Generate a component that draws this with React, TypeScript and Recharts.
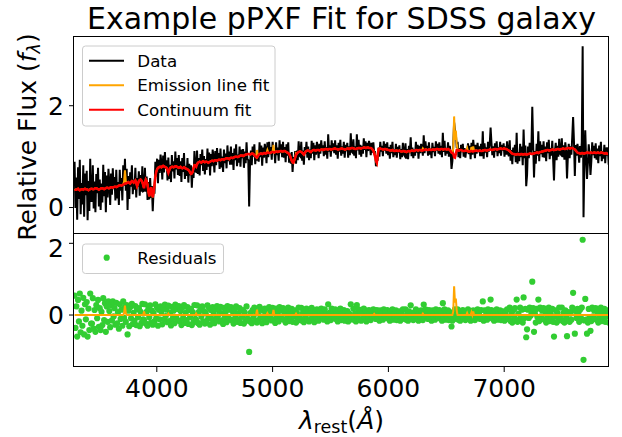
import { ComposedChart, Line, Scatter, XAxis, YAxis } from 'recharts';

const FONT = '"DejaVu Sans", sans-serif';

// rest-frame wavelength grid (Angstrom)
const LAMBDA_START = 3290;
const LAMBDA_STEP = 7.5;

const FLUX = [
  0.90, -0.01, 0.59, -0.24, 0.79, 0.17, 0.94, -0.13, 0.48, 0.06, 0.83, -0.18, 0.67, 0.24, 0.72, -0.25, 0.52, -0.07, 0.96, 0.13,
  0.13, 0.83, -0.02, 0.51, -0.09, 0.66, 0.28, 0.78, 0.02, 0.55, -0.05, 0.47, 0.10, 0.84, 0.22, 0.70, -0.09, 0.63, 0.20, 0.76,
  0.49, 0.05, 0.67, 0.25, 0.77, 0.36, 0.60, 0.14, 0.74, 0.18, 0.50, 0.05, 0.74, 0.33, 0.58, 0.14, 0.83, 0.43, 0.96, 0.33,
  0.76, -0.05, 0.62, 0.17, 0.69, 0.41, 0.83, 0.26, 0.55, 0.35, 0.78, 0.20, 0.58, 0.41, 0.71, 0.23, 0.64, 0.31, 0.81, 0.32,
  0.33, 0.78, 0.31, 0.61, 0.15, 0.50, 0.16, 0.58, 0.19, 0.42, -0.07, 0.36, 0.27, 0.90, 0.61, 0.96, 0.48, 0.94, 0.68, 1.04,
  0.88, 0.55, 1.02, 0.69, 1.09, 0.76, 0.93, 0.53, 0.98, 0.56, 0.84, 0.50, 1.03, 0.71, 0.91, 0.57, 1.10, 0.75, 0.97, 0.64,
  1.03, 0.62, 0.91, 0.50, 0.97, 0.70, 1.07, 0.56, 0.82, 0.62, 0.97, 0.49, 0.86, 0.63, 0.83, 0.39, 0.78, 0.58, 1.11, 0.71,
  0.70, 1.12, 0.66, 0.97, 0.63, 1.05, 0.83, 1.14, 0.72, 1.01, 0.65, 0.95, 0.74, 1.16, 0.80, 1.08, 0.63, 1.05, 0.81, 1.14,
  0.99, 0.69, 1.11, 0.83, 1.17, 0.90, 1.07, 0.76, 1.16, 0.79, 1.00, 0.70, 1.14, 0.87, 1.06, 0.77, 1.22, 0.91, 1.10, 0.84,
  1.20, 0.84, 1.07, 0.74, 1.16, 0.93, 1.24, 0.81, 1.04, 0.88, 1.20, 0.80, 1.14, 0.97, 1.15, 0.78, 1.10, 0.87, 1.28, 0.95,
  0.93, 0.02, 0.86, 1.12, 0.83, 1.20, 1.00, 1.24, 0.85, 1.08, 0.92, 1.06, 0.90, 1.28, 0.99, 1.22, 0.82, 1.18, 0.98, 1.25,
  1.13, 0.87, 1.28, 0.99, 1.29, 1.05, 1.19, 0.94, 1.29, 1.10, 1.12, 0.87, 1.28, 1.03, 1.18, 0.92, 1.32, 1.07, 1.24, 0.99,
  1.29, 0.98, 1.19, 0.89, 1.24, 1.02, 1.28, 0.88, 1.06, 0.86, 1.09, 0.70, 0.99, 0.89, 1.11, 0.86, 1.12, 0.93, 1.30, 1.02,
  1.00, 1.29, 0.92, 1.12, 0.84, 1.19, 1.06, 1.29, 0.98, 1.20, 0.93, 1.14, 0.97, 1.31, 1.06, 1.27, 0.93, 1.22, 1.04, 1.29,
  1.18, 0.97, 1.25, 1.06, 1.32, 1.12, 1.22, 1.01, 1.30, 1.04, 1.19, 0.96, 1.44, 1.10, 1.22, 1.00, 1.32, 1.11, 1.26, 1.07,
  1.32, 1.04, 1.22, 0.96, 1.27, 1.10, 1.33, 1.02, 1.20, 1.06, 1.29, 0.98, 1.23, 1.11, 1.27, 0.98, 1.20, 1.03, 1.46, 1.10,
  1.08, 1.34, 1.02, 1.20, 0.97, 1.44, 1.12, 1.33, 1.04, 1.23, 1.00, 1.21, 1.06, 1.36, 1.13, 1.30, 0.99, 1.27, 1.11, 1.31,
  1.22, 1.03, 1.27, 1.08, 1.28, 1.07, 1.08, 0.81, 1.02, 0.92, 1.18, 1.00, 1.29, 1.10, 1.21, 1.01, 1.30, 1.12, 1.25, 1.06,
  1.28, 1.03, 1.19, 0.96, 1.23, 1.07, 1.29, 0.99, 1.14, 1.03, 1.25, 0.98, 1.19, 1.08, 1.22, 0.95, 1.15, 0.99, 1.27, 1.05,
  1.02, 1.26, 0.96, 1.15, 0.95, 1.21, 1.07, 1.38, 1.01, 1.18, 0.97, 1.14, 1.02, 1.29, 1.08, 1.23, 0.96, 1.21, 1.07, 1.25,
  1.17, 1.02, 1.42, 1.07, 1.30, 1.12, 1.21, 1.02, 1.28, 1.04, 1.16, 0.97, 1.27, 1.09, 1.19, 1.01, 1.30, 1.12, 1.25, 1.06,
  1.28, 1.04, 1.21, 0.99, 1.47, 1.09, 1.31, 1.02, 1.17, 1.06, 1.28, 1.00, 1.21, 1.08, 0.76, 0.91, 1.21, 1.68, 1.49, 1.45,
  1.17, 1.29, 0.99, 1.17, 0.97, 1.23, 1.09, 1.25, 1.00, 1.17, 0.98, 1.15, 1.07, 1.26, 1.05, 1.21, 0.95, 1.27, 1.04, 1.33,
  1.16, 0.97, 1.23, 1.06, 1.27, 1.09, 1.20, 1.01, 1.25, 1.01, 1.50, 0.96, 1.26, 1.08, 1.18, 0.99, 1.29, 1.10, 1.24, 1.57,
  1.27, 1.03, 1.20, 0.98, 1.26, 1.10, 1.30, 1.01, 1.18, 1.07, 1.29, 1.02, 1.23, 1.12, 1.26, 1.00, 1.20, 1.04, 1.30, 1.07,
  1.01, 1.32, 0.92, 1.13, 0.85, 1.18, 1.01, 1.23, 0.89, 1.47, 0.86, 1.09, 0.91, 1.25, 0.99, 1.20, 0.83, 1.53, 0.97, 1.22,
  0.42, 0.64, 1.20, 0.97, 1.27, 1.04, 1.16, 1.98, 1.25, 0.59, 1.11, 0.86, 1.25, 1.02, 1.50, 0.91, 1.30, 1.05, 1.23, 0.99,
  1.30, 0.98, 1.20, 0.91, 1.28, 1.07, 1.33, 0.95, 1.17, 1.02, 1.31, 0.95, 0.53, 1.09, 1.27, 0.93, 1.21, 1.00, 1.35, 1.06,
  1.04, 1.36, 0.99, 1.22, 0.94, 1.28, 1.12, 0.57, 1.02, 1.25, 0.97, 1.20, 1.04, 1.38, 1.78, 1.30, 0.62, 1.23, 1.02, 1.25,
  1.13, 0.88, 1.21, 0.98, 1.28, 3.17, -0.19, 0.91, 1.52, 0.94, 0.56, 0.87, 1.24, 1.01, 0.64, 0.91, 1.28, 1.03, 1.21, 0.97,
  1.26, 0.94, 1.16, 0.87, 1.22, 1.01, 1.29, 0.91, 1.11, 0.96, 1.23, 0.87, 1.18, 1.02, 1.18, 0.84,
];

const CONTINUUM = [
  0.36, 0.35, 0.35, 0.36, 0.37, 0.35, 0.34, 0.35, 0.36, 0.36, 0.35, 0.36, 0.37, 0.36, 0.36, 0.35, 0.34, 0.35, 0.36, 0.37,
  0.37, 0.36, 0.36, 0.37, 0.38, 0.38, 0.37, 0.36, 0.35, 0.36, 0.37, 0.38, 0.38, 0.37, 0.36, 0.37, 0.38, 0.39, 0.39, 0.38,
  0.38, 0.39, 0.40, 0.40, 0.39, 0.40, 0.41, 0.41, 0.40, 0.41, 0.42, 0.43, 0.44, 0.44, 0.43, 0.44, 0.45, 0.46, 0.47, 0.47,
  0.48, 0.49, 0.50, 0.48, 0.47, 0.50, 0.52, 0.51, 0.49, 0.51, 0.53, 0.48, 0.42, 0.47, 0.52, 0.54, 0.55, 0.53, 0.50, 0.44,
  0.38, 0.48, 0.55, 0.52, 0.45, 0.32, 0.22, 0.31, 0.40, 0.30, 0.20, 0.30, 0.45, 0.60, 0.70, 0.75, 0.78, 0.79, 0.80, 0.80,
  0.79, 0.81, 0.82, 0.81, 0.80, 0.79, 0.78, 0.73, 0.68, 0.73, 0.78, 0.79, 0.80, 0.80, 0.79, 0.80, 0.81, 0.81, 0.80, 0.79,
  0.78, 0.79, 0.80, 0.78, 0.77, 0.78, 0.79, 0.78, 0.76, 0.76, 0.75, 0.74, 0.72, 0.69, 0.66, 0.67, 0.70, 0.78, 0.83, 0.82,
  0.80, 0.85, 0.88, 0.89, 0.90, 0.89, 0.88, 0.90, 0.91, 0.90, 0.89, 0.90, 0.90, 0.89, 0.88, 0.89, 0.90, 0.91, 0.92, 0.92,
  0.91, 0.92, 0.93, 0.93, 0.92, 0.93, 0.94, 0.94, 0.93, 0.94, 0.95, 0.95, 0.94, 0.95, 0.96, 0.97, 0.97, 0.96, 0.95, 0.97,
  0.98, 0.98, 0.97, 0.98, 0.99, 1.00, 1.00, 1.00, 0.99, 1.00, 1.01, 1.02, 1.02, 1.02, 1.01, 1.02, 1.03, 1.04, 1.04, 1.05,
  1.05, 1.05, 1.04, 1.05, 1.06, 1.06, 1.05, 1.03, 1.01, 0.99, 0.98, 1.01, 1.04, 1.05, 1.06, 1.06, 1.05, 1.06, 1.07, 1.07,
  1.06, 1.07, 1.08, 1.08, 1.07, 1.07, 1.08, 1.09, 1.09, 1.09, 1.08, 1.09, 1.10, 1.10, 1.09, 1.10, 1.10, 1.11, 1.11, 1.10,
  1.10, 1.11, 1.11, 1.10, 1.09, 1.08, 1.07, 1.05, 1.02, 0.97, 0.92, 0.89, 0.88, 0.93, 0.98, 1.03, 1.06, 1.08, 1.09, 1.10,
  1.10, 1.09, 1.08, 1.06, 1.04, 1.07, 1.10, 1.11, 1.12, 1.12, 1.11, 1.10, 1.09, 1.11, 1.12, 1.13, 1.13, 1.12, 1.12, 1.13,
  1.13, 1.13, 1.12, 1.13, 1.14, 1.14, 1.13, 1.14, 1.14, 1.15, 1.15, 1.14, 1.14, 1.15, 1.15, 1.14, 1.14, 1.15, 1.15, 1.16,
  1.16, 1.15, 1.15, 1.14, 1.14, 1.15, 1.15, 1.16, 1.16, 1.15, 1.15, 1.14, 1.14, 1.15, 1.16, 1.16, 1.15, 1.16, 1.16, 1.17,
  1.17, 1.16, 1.16, 1.15, 1.15, 1.16, 1.16, 1.17, 1.17, 1.16, 1.16, 1.17, 1.17, 1.18, 1.18, 1.17, 1.17, 1.18, 1.18, 1.17,
  1.17, 1.17, 1.16, 1.14, 1.12, 1.06, 1.00, 0.92, 0.88, 1.02, 1.15, 1.16, 1.16, 1.15, 1.15, 1.14, 1.14, 1.15, 1.15, 1.14,
  1.14, 1.13, 1.13, 1.12, 1.12, 1.12, 1.13, 1.12, 1.11, 1.11, 1.12, 1.12, 1.11, 1.11, 1.12, 1.11, 1.10, 1.10, 1.11, 1.11,
  1.10, 1.10, 1.09, 1.10, 1.11, 1.11, 1.10, 1.11, 1.12, 1.12, 1.11, 1.11, 1.12, 1.13, 1.13, 1.12, 1.12, 1.13, 1.13, 1.12,
  1.12, 1.12, 1.13, 1.13, 1.14, 1.14, 1.13, 1.13, 1.14, 1.14, 1.13, 1.13, 1.14, 1.14, 1.13, 1.14, 1.14, 1.15, 1.15, 1.14,
  1.14, 1.14, 1.15, 1.15, 1.14, 1.14, 1.15, 1.15, 1.14, 1.14, 1.15, 1.14, 1.13, 1.11, 1.08, 1.07, 1.06, 0.99, 0.98, 1.05,
  1.13, 1.13, 1.12, 1.12, 1.13, 1.13, 1.12, 1.11, 1.11, 1.11, 1.12, 1.12, 1.11, 1.10, 1.10, 1.10, 1.11, 1.11, 1.10, 1.10,
  1.11, 1.11, 1.12, 1.12, 1.11, 1.11, 1.12, 1.12, 1.11, 1.11, 1.12, 1.12, 1.13, 1.13, 1.12, 1.12, 1.13, 1.13, 1.14, 1.14,
  1.13, 1.13, 1.14, 1.14, 1.15, 1.15, 1.14, 1.14, 1.15, 1.15, 1.16, 1.16, 1.15, 1.15, 1.16, 1.16, 1.15, 1.15, 1.14, 1.13,
  1.12, 1.11, 1.09, 1.07, 1.06, 1.05, 1.05, 1.04, 1.04, 1.04, 1.05, 1.05, 1.04, 1.04, 1.05, 1.05, 1.04, 1.04, 1.05, 1.05,
  1.04, 1.04, 1.05, 1.05, 1.06, 1.06, 1.05, 1.05, 1.06, 1.06, 1.07, 1.07, 1.08, 1.08, 1.07, 1.08, 1.09, 1.09, 1.10, 1.10,
  1.11, 1.11, 1.12, 1.12, 1.13, 1.13, 1.12, 1.12, 1.13, 1.13, 1.14, 1.14, 1.13, 1.13, 1.14, 1.14, 1.15, 1.15, 1.14, 1.14,
  1.15, 1.15, 1.16, 1.16, 1.15, 1.15, 1.16, 1.16, 1.17, 1.17, 1.16, 1.16, 1.17, 1.17, 1.16, 1.15, 1.14, 1.12, 1.10, 1.08,
  1.07, 1.07, 1.06, 1.06, 1.07, 1.07, 1.06, 1.06, 1.07, 1.07, 1.08, 1.08, 1.07, 1.07, 1.08, 1.08, 1.07, 1.07, 1.08, 1.08,
  1.07, 1.07, 1.08, 1.08, 1.07, 1.07, 1.08, 1.08, 1.07, 1.07, 1.06, 1.06, 1.07, 1.06, 1.05, 1.05,
];

// gas emission component: [wavelength, flux]
const EMISSION_LINES: [number, number][] = [
  [3717.5, 0.05], [3725, 0.26], [3732.5, 0.05], [3890, 0.1], [4100, 0.04], [4340, 0.04],
  [4865, 0.15], [4955, 0.05], [5007.5, 0.14], [5202.5, 0.04], [5877.5, 0.03], [6297.5, 0.04],
  [6560, 0.1], [6567.5, 0.8], [6575, 0.35], [6582.5, 0.46], [6590, 0.12],
  [6680, 0.06], [6717.5, 0.08], [6732.5, 0.1],
];

const X_TICKS = [4000, 5000, 6000, 7000];
const FLUX_TICKS = [0, 2];
const RESID_TICKS = [0, 2];

const FIT_LEGEND = [
  { label: 'Data', color: '#000000' },
  { label: 'Emission line fit', color: '#FFA500' },
  { label: 'Continuum fit', color: '#FF0000' },
];

const gasAt = new Map(EMISSION_LINES);
const rows = FLUX.map((flux, i) => {
  const lam = LAMBDA_START + i * LAMBDA_STEP;
  const cont = CONTINUUM[i];
  const gas = gasAt.get(lam) ?? 0;
  return { lam, flux, cont, gas, fit: cont + gas, resid: flux - cont - gas };
});

const X_DOMAIN = [3285, 7905];
const RESID_DOMAIN = [-1.45, 2.26];
const tickStyle = { fontSize: 25, fill: '#000', fontFamily: FONT };

export default function App() {
  return (
    <div style={{ position: 'absolute', left: 0, top: 0, width: 622, height: 437, background: '#fff', fontFamily: FONT }}>
      <div style={{ position: 'absolute', left: 0, top: 0 }}>
        <ComposedChart width={622} height={240} data={rows} margin={{ top: 37, right: 13, bottom: 6, left: 0 }}>
          <XAxis dataKey="lam" type="number" domain={X_DOMAIN} hide allowDataOverflow />
          <YAxis
            type="number"
            domain={[-0.52, 3.35]}
            ticks={FLUX_TICKS}
            width={74}
            stroke="#000"
            axisLine={false}
            tickSize={5}
            tickMargin={5}
            tick={tickStyle}
            allowDataOverflow
          />
          <Line dataKey="flux" stroke="#000" strokeWidth={2} dot={false} isAnimationActive={false} />
          <Line dataKey="fit" stroke="#FFA500" strokeWidth={2} dot={false} isAnimationActive={false} />
          <Line dataKey="cont" stroke="#FF0000" strokeWidth={2.5} dot={false} isAnimationActive={false} />
        </ComposedChart>
      </div>
      <div style={{ position: 'absolute', left: 0, top: 234 }}>
        <ComposedChart width={622} height={203} data={rows} margin={{ top: 0, right: 13, bottom: 30, left: 0 }}>
          <XAxis
            dataKey="lam"
            type="number"
            domain={X_DOMAIN}
            ticks={X_TICKS}
            interval={0}
            height={40}
            stroke="#000"
            axisLine={false}
            tickSize={5}
            tickMargin={7}
            tick={tickStyle}
            allowDataOverflow
          />
          <YAxis
            type="number"
            domain={RESID_DOMAIN}
            ticks={RESID_TICKS}
            width={74}
            stroke="#000"
            axisLine={false}
            tickSize={5}
            tickMargin={5}
            tick={tickStyle}
            allowDataOverflow
          />
          <Scatter
            dataKey="resid"
            fill="#32CD32"
            isAnimationActive={false}
            shape={(p: any) => <circle cx={p.cx} cy={p.cy} r={3.1} fill="#32CD32" />}
          />
        </ComposedChart>
      </div>
      {/* gas component drawn in its own layer so it sits above the residual dots */}
      <div style={{ position: 'absolute', left: 0, top: 234 }}>
        <ComposedChart width={622} height={203} data={rows} margin={{ top: 0, right: 13, bottom: 70, left: 74 }}>
          <XAxis dataKey="lam" type="number" domain={X_DOMAIN} hide allowDataOverflow />
          <YAxis type="number" domain={RESID_DOMAIN} hide allowDataOverflow />
          <Line dataKey="gas" stroke="#FFA500" strokeWidth={2} dot={false} isAnimationActive={false} />
        </ComposedChart>
      </div>
      <svg width={622} height={437} style={{ position: 'absolute', left: 0, top: 0, pointerEvents: 'none' }}>
        <rect x={73.5} y={36.5} width={535} height={197} fill="none" stroke="#000" strokeWidth={1} />
        <rect x={73.5} y={233.5} width={535} height={133} fill="none" stroke="#000" strokeWidth={1} />
        <text x={341.5} y={29} textAnchor="middle" fontSize={30} fontFamily={FONT} fill="#000">
          Example pPXF Fit for SDSS galaxy
        </text>
        <text transform="translate(36,137) rotate(-90)" textAnchor="middle" fontSize={25} fontFamily={FONT} fill="#000">
          Relative Flux (<tspan fontStyle="italic">f</tspan>
          <tspan fontStyle="italic" fontSize={17.5} dy={4}>λ</tspan>
          <tspan dy={-4}>)</tspan>
        </text>
        <text x={341.5} y={429} textAnchor="middle" fontSize={25} fontFamily={FONT} fill="#000">
          <tspan fontStyle="italic">λ</tspan>
          <tspan fontSize={17.5} dy={3.5}>rest</tspan>
          <tspan dy={-3.5}>(</tspan>
          <tspan fontStyle="italic">Å</tspan>)
        </text>
        <rect x={82.5} y={46} width={192.5} height={80} rx={3} fill="#fff" fillOpacity={0.8} stroke="#ccc" />
        {FIT_LEGEND.map((item, i) => (
          <g key={item.label}>
            <line x1={89} x2={124} y1={60.7 + i * 24.5} y2={60.7 + i * 24.5} stroke={item.color} strokeWidth={2} />
            <text x={137.3} y={66.5 + i * 24.5} fontSize={16.7} fontFamily={FONT} fill="#000">
              {item.label}
            </text>
          </g>
        ))}
        <rect x={82.5} y={244} width={141} height={29.5} rx={3} fill="#fff" fillOpacity={0.8} stroke="#ccc" />
        <circle cx={106.7} cy={257.7} r={3.1} fill="#32CD32" />
        <text x={137.3} y={263.7} fontSize={16.7} fontFamily={FONT} fill="#000">
          Residuals
        </text>
      </svg>
    </div>
  );
}
